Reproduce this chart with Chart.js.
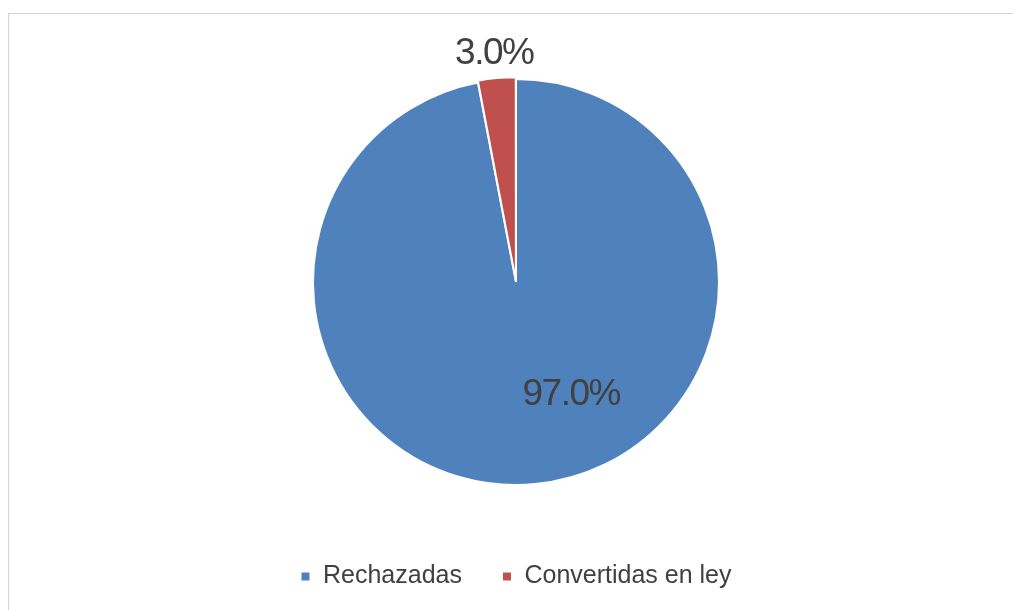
<!DOCTYPE html>
<html>
<head>
<meta charset="utf-8">
<script src="https://cdn.jsdelivr.net/npm/chart.js@4/dist/chart.umd.min.js"></script>
<style>
  html, body { margin: 0; padding: 0; background: #fff; }
  #wrap { position: relative; width: 1014px; height: 610px; overflow: hidden; }
  #frame { position: absolute; left: 8px; top: 13px; width: 1004px; height: 620px;
           border-left: 1px solid #d4d4d4; border-top: 1px solid #d4d4d4; }
  #chart { position: absolute; left: 0; top: 0; }
</style>
</head>
<body>
<div id="wrap">
  <div id="frame"></div>
  <canvas id="chart" width="1014" height="610"></canvas>
</div>
<script>
// Proyectos de ley: rechazadas vs. convertidas en ley
const labels = ['Rechazadas', 'Convertidas en ley'];
const values = [97.0, 3.0];
const colors = ['#4F81BD', '#C0504D'];

const textColor = '#404040';
const fontFamily = '"Liberation Sans", Arial, Helvetica, sans-serif';

// Percent labels: big slice inside at a fixed angle, small slice just outside the rim
const pctLabels = {
  id: 'pctLabels',
  afterDatasetsDraw(chart) {
    const ctx = chart.ctx;
    const meta = chart.getDatasetMeta(0);
    const total = values.reduce((a, b) => a + b, 0);
    ctx.save();
    ctx.font = '37px ' + fontFamily;
    ctx.fillStyle = textColor;
    ctx.textAlign = 'center';
    ctx.textBaseline = 'middle';
    if ('letterSpacing' in ctx) ctx.letterSpacing = '-1.5px';
    meta.data.forEach((arc, i) => {
      const p = arc.getProps(['x', 'y', 'startAngle', 'endAngle', 'outerRadius'], true);
      let ang, dist;
      if (values[i] / total > 0.5) {
        ang = 63.5 * Math.PI / 180;
        dist = p.outerRadius * 0.61;
      } else {
        ang = (p.startAngle + p.endAngle) / 2;
        dist = p.outerRadius + 28;
      }
      const txt = (values[i] / total * 100).toFixed(1) + '%';
      ctx.fillText(txt, p.x + Math.cos(ang) * dist, p.y + Math.sin(ang) * dist + 2);
    });
    ctx.restore();
  }
};

new Chart(document.getElementById('chart'), {
  type: 'pie',
  data: {
    labels: labels,
    datasets: [{
      data: values,
      backgroundColor: colors,
      borderColor: '#ffffff',
      borderWidth: 2,
      offset: [0, 4]
    }]
  },
  options: {
    responsive: false,
    animation: false,
    radius: 203,
    layout: { padding: { left: 18, top: 40, right: 0, bottom: 11 } },
    plugins: {
      tooltip: { enabled: false },
      legend: {
        position: 'bottom',
        labels: {
          boxWidth: 10,
          boxHeight: 10,
          padding: 40,
          color: textColor,
          font: { family: fontFamily, size: 25 }
        }
      }
    }
  },
  plugins: [pctLabels]
});
</script>
</body>
</html>
